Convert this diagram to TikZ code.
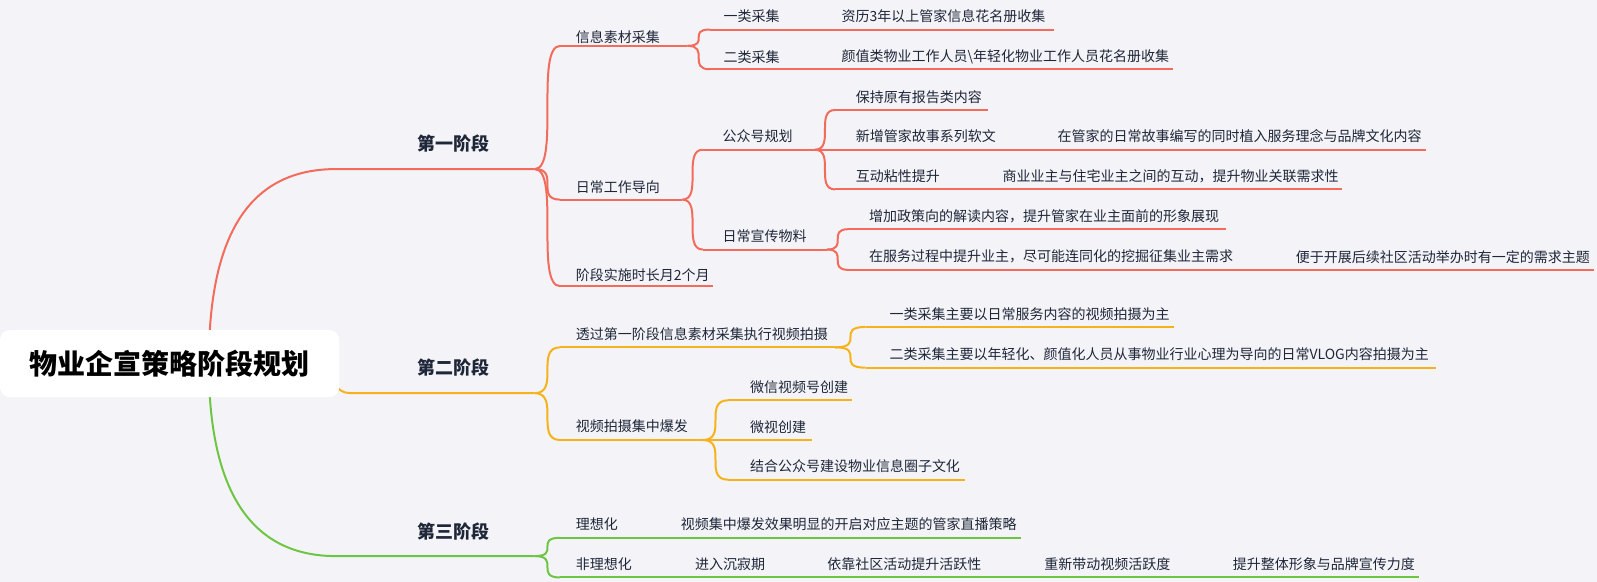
\documentclass[tikz,border=0pt]{standalone}
\usepackage{fontspec}
\setmainfont{Noto Sans CJK SC}
\usetikzlibrary{calc}
\definecolor{bg}{HTML}{F4F4F8}
\definecolor{cr}{HTML}{F26B5B}
\definecolor{co}{HTML}{F6B21B}
\definecolor{cg}{HTML}{6CC644}
\definecolor{tx}{HTML}{1E2638}
\tikzset{
 leaf/.style={inner sep=0pt,text=tx,font=\fontsize{7}{8}\selectfont},
 stage/.style={inner sep=0pt,text=tx,font=\fontsize{9}{10}\selectfont\bfseries},
 link/.style={line width=1pt}
}
\newcommand\itm[8]{%
 \coordinate (#1-s) at (#3,#5); \coordinate (#1-e) at (#4,#5);
 \draw[#2,link] (#1-s) -- (#1-e);
 \node[leaf,anchor=west] (#1) at (#6,#7) {#8};}
\newcommand\cn[3]{\draw[#1,link] (#2) .. controls (#2 -| #3) and (#3 -| #2) .. (#3);}
\begin{document}
\begin{tikzpicture}[x=0.5093pt,y=-0.5093pt]
\fill[bg] (0,0) rectangle (1568,571);
\useasboundingbox (0,0) rectangle (1568,571);
% root curves
\coordinate (rc) at (205,357);
\coordinate (s1-s) at (330,166); \coordinate (s1-e) at (525,166);
\coordinate (s2-s) at (350,386); \coordinate (s2-e) at (525,386);
\coordinate (s3-s) at (330,546); \coordinate (s3-e) at (525,546);
\draw[cr,link] (rc) .. controls (205,230) and (245,166) .. (s1-s) -- (s1-e);
\draw[cg,link] (rc) .. controls (205,480) and (245,546) .. (s3-s) -- (s3-e);
\coordinate (rr) at (330,380);
\draw[co,link] (rr) .. controls (338,386) .. (s2-s) -- (s2-e);
\node[fill=white,rounded corners=5pt,minimum width=169.6pt,minimum height=33.6pt,inner sep=0pt,
 font=\fontsize{14}{16}\selectfont\bfseries] (root) at (166.5,357) {物业企宣策略阶段规划};
\node[stage,anchor=west] (s1) at (410,141) {第一阶段};
\node[stage,anchor=west] (s2) at (410,361) {第二阶段};
\node[stage,anchor=west] (s3) at (410,522) {第三阶段};
% stage 1
\itm{a1}{cr}{550}{675}{45}{565}{36}{信息素材采集}
\itm{a2}{cr}{550}{670}{196}{565}{184}{日常工作导向}
\itm{a3}{cr}{550}{700}{281}{565}{270}{阶段实施时长月2个月}
\cn{cr}{s1-e}{a1-s}\cn{cr}{s1-e}{a2-s}\cn{cr}{s1-e}{a3-s}
\itm{b1}{cr}{697}{790}{29}{710}{16}{一类采集}
\itm{b1x}{cr}{790}{1035}{29}{826}{16}{资历3年以上管家信息花名册收集}
\itm{b2}{cr}{697}{790}{68}{710}{56}{二类采集}
\itm{b2x}{cr}{790}{1152}{68}{826}{56}{颜值类物业工作人员\textbackslash 年轻化物业工作人员花名册收集}
\cn{cr}{a1-e}{b1-s}\cn{cr}{a1-e}{b2-s}
\itm{c1}{cr}{690}{800}{147}{709}{134}{公众号规划}
\itm{c2}{cr}{690}{812}{245}{709}{232}{日常宣传物料}
\cn{cr}{a2-e}{c1-s}\cn{cr}{a2-e}{c2-s}
\itm{d1}{cr}{820}{970}{108}{840}{95}{保持原有报告类内容}
\itm{d2}{cr}{820}{1000}{147}{840}{134}{新增管家故事系列软文}
\itm{d2x}{cr}{1000}{1400}{147}{1038}{134}{在管家的日常故事编写的同时植入服务理念与品牌文化内容}
\itm{d3}{cr}{820}{925}{186}{840}{173}{互动粘性提升}
\itm{d3x}{cr}{925}{1318}{186}{984}{173}{商业业主与住宅业主之间的互动，提升物业关联需求性}
\cn{cr}{c1-e}{d1-s}\cn{cr}{c1-e}{d2-s}\cn{cr}{c1-e}{d3-s}
\itm{e1}{cr}{833}{1204}{225}{853}{212}{增加政策向的解读内容，提升管家在业主面前的形象展现}
\itm{e2}{cr}{833}{1233}{265}{853}{252}{在服务过程中提升业主，尽可能连同化的挖掘征集业主需求}
\itm{e2x}{cr}{1233}{1565}{265}{1272}{252}{便于开展后续社区活动举办时有一定的需求主题}
\cn{cr}{c2-e}{e1-s}\cn{cr}{c2-e}{e2-s}
% stage 2
\itm{f1}{co}{550}{820}{341}{565}{328}{透过第一阶段信息素材采集执行视频拍摄}
\itm{f2}{co}{550}{690}{432}{565}{418}{视频拍摄集中爆发}
\cn{co}{s2-e}{f1-s}\cn{co}{s2-e}{f2-s}
\itm{g1}{co}{850}{1153}{321}{873}{308}{一类采集主要以日常服务内容的视频拍摄为主}
\itm{g2}{co}{850}{1410}{361}{873}{348}{二类采集主要以年轻化、颜值化人员从事物业行业心理为导向的日常VLOG内容拍摄为主}
\cn{co}{f1-e}{g1-s}\cn{co}{f1-e}{g2-s}
\itm{h1}{co}{715}{837}{393}{736}{380}{微信视频号创建}
\itm{h2}{co}{715}{797}{432}{736}{419}{微视创建}
\itm{h3}{co}{715}{947}{471}{736}{458}{结合公众号建设物业信息圈子文化}
\cn{co}{f2-e}{h1-s}\cn{co}{f2-e}{h2-s}\cn{co}{f2-e}{h3-s}
% stage 3
\itm{i1}{cg}{550}{630}{528}{565}{515}{理想化}
\itm{i1x}{cg}{630}{1002}{528}{668}{515}{视频集中爆发效果明显的开启对应主题的管家直播策略}
\itm{i2}{cg}{550}{640}{567}{565}{554}{非理想化}
\itm{j1}{cg}{640}{780}{567}{682}{554}{进入沉寂期}
\itm{j2}{cg}{780}{1000}{567}{812}{554}{依靠社区活动提升活跃性}
\itm{j3}{cg}{1000}{1180}{567}{1025}{554}{重新带动视频活跃度}
\itm{j4}{cg}{1180}{1393}{567}{1210}{554}{提升整体形象与品牌宣传力度}
\cn{cg}{s3-e}{i1-s}\cn{cg}{s3-e}{i2-s}
\end{tikzpicture}
\end{document}
